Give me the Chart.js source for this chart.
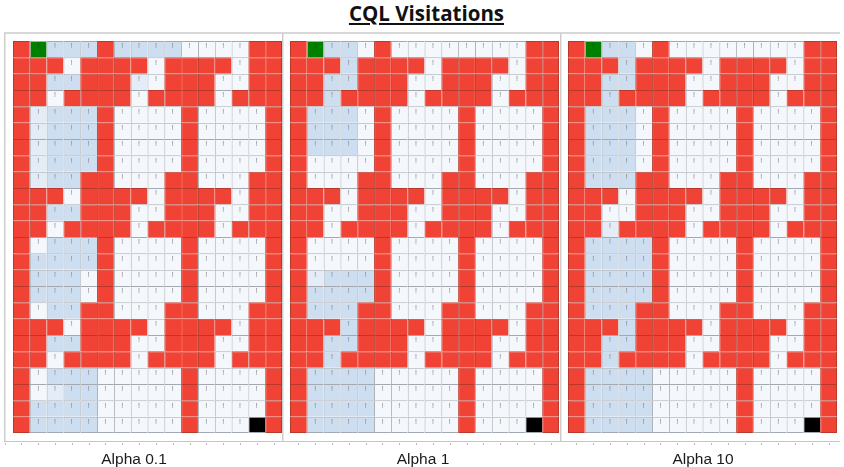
<!DOCTYPE html>
<html>
<head>
<meta charset="utf-8">
<script src="https://cdn.jsdelivr.net/npm/chart.js@4.4.1/dist/chart.umd.min.js"></script>
<style>
  html, body { margin: 0; padding: 0; background: #fff; width: 844px; height: 467px; overflow: hidden; }
  #title {
    position: absolute; left: 0; width: 853px; top: -1px;
    text-align: center; font: 700 20.5px 'Open Sans', sans-serif; line-height: 28px; color: #111;
    text-decoration: underline; text-decoration-thickness: 2px; text-underline-offset: 2px;
  }
  canvas { position: absolute; top: 30px; }
</style>
</head>
<body>
<div id="title">CQL Visitations</div>
<canvas id="panel0" width="280" height="437" style="left:4px"></canvas>
<canvas id="panel1" width="280" height="437" style="left:282px"></canvas>
<canvas id="panel2" width="280" height="437" style="left:560px"></canvas>
<script>
// Grid columns and rows of the maze
const columnLabels = ['c0','c1','c2','c3','c4','c5','c6','c7','c8','c9','c10','c11','c12','c13','c14','c15'];
const rowLabels = ['r0','r1','r2','r3','r4','r5','r6','r7','r8','r9','r10','r11',
                   'r12','r13','r14','r15','r16','r17','r18','r19','r20','r21','r22','r23'];

// Cell codes: '#' wall, 'S' start, 'G' goal, '0' not visited, '1' rarely visited, '2' visited
const gridAlpha01 = [
  '#S222#22220000##',
  '###0####0####0##',
  '##22###10###00##',
  '##0####0####0###',
  '#1222#0000#0000#',
  '#1222#0000#0000#',
  '#1222#0000#0000#',
  '#1222#0000#0000#',
  '#122##000##000##',
  '###0####0####0##',
  '##22###00###00##',
  '##0####0####0###',
  '#0222#0000#0000#',
  '#2222#0000#0000#',
  '#2220#0000#0000#',
  '#2220#0000#0000#',
  '#022##000##000##',
  '###0####0####0##',
  '##22###00###00##',
  '##0####0####0###',
  '#022200000#0000#',
  '#012200000#0000#',
  '#222200000#0000#',
  '#222200000#000G#'
];
const gridAlpha1 = [
  '#S220#00000000##',
  '###2####0####0##',
  '##22###00###00##',
  '##2####0####0###',
  '#2220#0000#0000#',
  '#2220#0000#0000#',
  '#2220#0000#0000#',
  '#0000#0000#0000#',
  '#000##000##000##',
  '###0####0####0##',
  '##00###00###00##',
  '##0####0####0###',
  '#0000#0000#0000#',
  '#0000#0000#0000#',
  '#1222#0000#0000#',
  '#2222#0000#0000#',
  '#222##000##000##',
  '###2####0####0##',
  '##22###00###00##',
  '##2####0####0###',
  '#222200000#0000#',
  '#222200000#0000#',
  '#222200000#0000#',
  '#222200000#000G#'
];
const gridAlpha10 = [
  '#S220#00000000##',
  '###2####0####0##',
  '##22###00###00##',
  '##2####0####0###',
  '#2220#0000#0000#',
  '#2220#0000#0000#',
  '#2220#0000#0000#',
  '#2220#0000#0000#',
  '#222##000##000##',
  '###0####0####0##',
  '##00###00###00##',
  '##1####0####0###',
  '#2222#0000#0000#',
  '#2222#0000#0000#',
  '#2222#0000#0000#',
  '#2222#0000#0000#',
  '#222##000##000##',
  '###2####0####0##',
  '##22###00###00##',
  '##2####0####0###',
  '#222200000#0000#',
  '#222200000#0000#',
  '#222200000#0000#',
  '#222200000#000G#'
];
const panelCaptions = ['Alpha 0.1', 'Alpha 1', 'Alpha 10'];

const cellFill = { '#': '#f04335', 'S': '#008000', 'G': '#000000', '0': '#f4f8fc', '1': '#e3ecf7', '2': '#cddef0' };
const wallEdge = '#b9372b';
const cellEdge = '#a3a9b0';

// Small "!" marker printed in every open cell
const cellMarks = {
  id: 'cellMarks',
  afterDatasetsDraw(chart, args, opts) {
    const ctx = chart.ctx, grid = opts.grid;
    ctx.save();
    ctx.font = '7px "Liberation Sans"';
    ctx.textAlign = 'center';
    ctx.textBaseline = 'top';
    chart.data.datasets.forEach((ds, r) => {
      chart.getDatasetMeta(r).data.forEach((bar, c) => {
        const k = grid[r][c];
        if (k === '#' || k === 'G') return;
        const top = Math.min(bar.y, bar.base);
        ctx.fillStyle = k === 'S' ? '#2e3a2e' : '#808080';
        ctx.fillText('!', bar.x, top + 2);
      });
    });
    ctx.restore();
  }
};

// Frame around each panel with a faint axis line and tick dots under the grid
const panelFrame = {
  id: 'panelFrame',
  beforeDraw(chart) {
    const ctx = chart.ctx, w = chart.width, area = chart.chartArea;
    ctx.save();
    ctx.strokeStyle = '#d8d8d8';
    ctx.lineWidth = 2;
    ctx.beginPath(); ctx.moveTo(0, 3); ctx.lineTo(w, 3); ctx.stroke();
    ctx.strokeStyle = '#cdcdcd';
    ctx.lineWidth = 1.5;
    ctx.beginPath(); ctx.moveTo(0.75, 3); ctx.lineTo(0.75, 412); ctx.stroke();
    ctx.strokeStyle = '#c6c6c6';
    ctx.lineWidth = 1;
    ctx.beginPath(); ctx.moveTo(0, 411.5); ctx.lineTo(w, 411.5); ctx.stroke();
    const cw = (area.right - area.left) / columnLabels.length;
    ctx.fillStyle = '#b8b8b8';
    for (let k = 0; k <= columnLabels.length; k++) {
      const x = area.left + cw * (k - 0.5);
      if (x > 0 && x < w) ctx.fillRect(Math.round(x), 413, 1, 2);
    }
    ctx.restore();
  }
};

// Caption printed below each panel
const panelCaption = {
  id: 'panelCaption',
  afterDraw(chart, args, opts) {
    const ctx = chart.ctx;
    ctx.save();
    ctx.font = '15.5px "Liberation Sans"';
    ctx.fillStyle = '#1a1a1a';
    ctx.textAlign = 'center';
    ctx.textBaseline = 'alphabetic';
    ctx.fillText(opts.text, opts.x, 434);
    ctx.restore();
  }
};

function makePanel(canvasId, grid, caption, captionX, padLeft) {
  const lastRow = rowLabels.length - 1, lastCol = columnLabels.length - 1;
  const datasets = rowLabels.map((name, r) => ({
    label: name,
    data: columnLabels.map(() => [r, r + 1]),
    backgroundColor: ctx => cellFill[grid[r][ctx.dataIndex]],
    borderColor: ctx => grid[r][ctx.dataIndex] === '#' ? wallEdge : cellEdge,
    borderWidth: ctx => ({ top: 1, left: 1, right: ctx.dataIndex === lastCol ? 1 : 0, bottom: r === lastRow ? 1 : 0 })
  }));
  return new Chart(document.getElementById(canvasId), {
    type: 'bar',
    data: { labels: columnLabels, datasets },
    options: {
      responsive: false,
      animation: false,
      devicePixelRatio: 1,
      layout: { padding: { left: padLeft, right: 280 - padLeft - 269, top: 11, bottom: 34 } },
      datasets: { bar: { grouped: false, categoryPercentage: 1, barPercentage: 1, borderSkipped: false, inflateAmount: 0 } },
      scales: {
        x: { type: 'category', display: false, offset: true },
        y: { type: 'linear', display: false, min: 0, max: rowLabels.length, reverse: true }
      },
      plugins: {
        legend: { display: false },
        tooltip: { enabled: false },
        cellMarks: { grid },
        panelCaption: { text: caption, x: captionX }
      }
    },
    plugins: [panelFrame, cellMarks, panelCaption]
  });
}

makePanel('panel0', gridAlpha01, panelCaptions[0], 130, 9);
makePanel('panel1', gridAlpha1, panelCaptions[1], 141, 8);
makePanel('panel2', gridAlpha10, panelCaptions[2], 143, 8);
</script>
</body>
</html>
